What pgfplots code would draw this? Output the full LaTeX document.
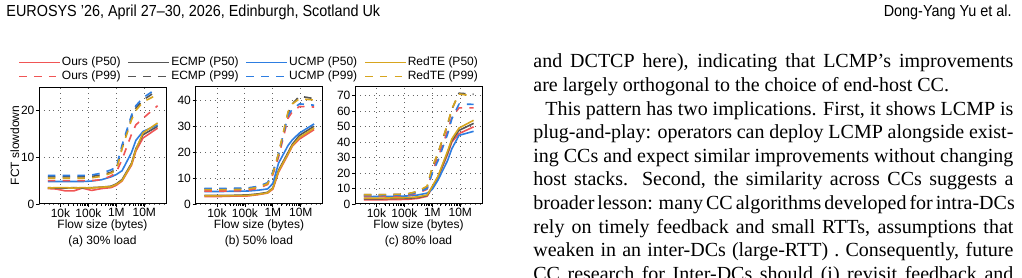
\documentclass[border=0pt]{standalone}
\usepackage{fontspec}
\setmainfont{Liberation Serif}
\newfontfamily\chartfont{Liberation Sans}
\newfontfamily\headfont{Liberation Sans}[FakeStretch=0.9]
\usepackage{pgfplots}
\usepackage{pgfplotstable}
\pgfplotsset{compat=1.18}

\definecolor{cOurs}{RGB}{240,85,85}
\definecolor{cECMP}{RGB}{85,85,85}
\definecolor{cUCMP}{RGB}{45,125,225}
\definecolor{cRedTE}{RGB}{215,165,30}

% 30% load
\pgfplotstableread{
x     rs   gs   bs   ys   rd   gd   bd   yd
3.5e3 3.3  3.5  4.8  3.4  5.0  5.8  6.1  5.5
7e3   3.2  3.4  4.8  3.5  5.0  5.8  6.1  5.5
1.5e4 2.8  3.4  4.8  3.5  5.0  5.8  6.1  5.5
3e4   2.8  3.5  4.8  3.4  5.0  5.8  6.1  5.5
6e4   3.4  3.4  4.8  3.5  5.0  5.8  6.1  5.5
1.3e5 2.9  3.5  4.9  3.4  5.0  5.9  6.2  5.6
3e5   3.3  3.6  5.2  3.6  5.2  6.2  6.6  5.9
6.5e5 3.5  3.8  5.8  3.7  6.0  6.8  7.3  6.6
1e6   4.0  4.3  6.3  4.2  6.8  7.5  7.9  7.2
1.6e6 4.9  5.2  7.1  5.0  9.5  12.0 12.6 11.8
3.5e6 8.3  8.7  11.0 8.5  14.9 18.5 19.0 18.0
5e6   11.3 11.8 13.6 11.6 16.9 20.5 21.0 20.0
9e6   14.1 14.8 15.5 15.2 18.3 22.2 22.7 21.8
3e7   16.2 16.6 16.9 17.3 21.0 24.3 24.8 23.4
}\tblA

% 50% load
\pgfplotstableread{
x     rs   gs   bs   ys   rd   gd   bd   yd
3.5e3 2.9  3.3  4.8  3.1  5.0  5.8  6.0  5.5
7e3   2.9  3.3  4.8  3.1  5.0  5.8  6.0  5.5
1.5e4 2.9  3.3  4.8  3.1  5.0  5.8  6.0  5.5
3e4   3.0  3.3  4.9  3.2  5.0  5.8  6.0  5.5
6e4   3.0  3.4  4.9  3.2  5.1  5.9  6.1  5.6
1.3e5 3.1  3.5  5.0  3.3  5.3  6.0  6.2  5.8
3e5   3.6  3.9  5.3  3.7  6.0  6.6  6.8  6.4
6.5e5 4.2  4.5  5.8  4.3  7.5  8.0  8.2  7.8
1e6   5.7  6.2  7.9  6.0  11.3 12.0 12.3 11.8
1.6e6 12.2 13.0 15.7 12.6 18.0 19.0 19.2 19.5
3.5e6 19.0 19.8 22.5 19.3 33.0 35.0 34.0 35.5
5e6   22.3 23.0 24.7 22.5 35.5 38.5 36.5 38.5
9e6   25.0 26.4 27.3 25.6 37.5 41.5 38.5 40.5
3e7   28.6 29.9 30.8 29.2 37.3 40.5 38.0 40.0
}\tblB

% 80% load
\pgfplotstableread{
x     rs   gs   bs   ys   rd   gd   bd   yd
3.5e3 2.7  3.4  4.8  3.8  5.0  6.0  5.5  6.0
7e3   2.7  3.4  4.8  3.8  5.0  6.0  5.5  6.0
1.5e4 2.7  3.4  4.9  3.8  5.0  6.0  5.5  6.0
3e4   2.8  3.5  4.9  3.9  5.1  6.1  5.6  6.1
6e4   2.9  3.6  5.0  4.0  5.2  6.2  5.7  6.2
1.3e5 3.0  3.7  5.2  4.1  5.5  6.5  6.0  6.5
3e5   3.6  4.2  5.8  4.6  7.0  8.0  7.5  8.2
6.5e5 5.0  5.5  7.0  5.8  9.5  11.0 10.0 11.5
1e6   10.5 11.0 9.5  11.5 21.0 23.5 20.0 24.0
1.6e6 17.0 17.5 15.5 18.0 30.0 33.0 28.0 33.0
3.5e6 32.0 33.0 28.0 34.0 47.0 51.0 45.0 51.5
5e6   40.0 41.0 35.7 42.0 56.0 61.0 55.0 61.5
9e6   45.4 47.5 44.3 49.0 62.0 71.5 64.5 71.0
3e7   49.8 52.0 46.9 54.0 62.0 70.8 64.3 69.7
}\tblC

\newcommand{\cf}{\chartfont\fontsize{6}{7}\selectfont}

\pgfplotsset{
  every axis/.append style={
    scale only axis, width=63.5pt, height=58.5pt, anchor=south west,
    xmin=1.7e3, xmax=6e7, ymin=0,
    xtick={1e4,1e5,1e6,1e7}, xticklabels={10k,100k,1M,10M},
    grid=major, major grid style={dotted, black!60, line width=0.45pt},
    tick pos=left, tick align=outside, major tick length=1.5pt, minor tick length=1pt,
    tick style={black, line width=0.4pt},
    axis line style={line width=0.5pt},
    every tick label/.append style={font=\cf, inner sep=0.6pt},
    /pgf/number format/assume math mode=true,
    xlabel={Flow size (bytes)},
    every axis x label/.style={at={(axis description cs:0.5,0)}, anchor=center, yshift=-10.5pt, inner sep=0pt, font=\cf},
    every axis y label/.style={at={(axis description cs:-0.19,0.5)}, anchor=center, rotate=90, inner sep=0pt, font=\cf},
  },
  every axis plot/.append style={line width=0.8pt, line join=round, mark=none},
}

\newcommand{\allplots}[1]{%
  \addplot[cOurs]  table[x=x,y=rs]{#1};
  \addplot[cECMP]  table[x=x,y=gs]{#1};
  \addplot[cUCMP]  table[x=x,y=bs]{#1};
  \addplot[cRedTE] table[x=x,y=ys]{#1};
  \addplot[cOurs, dash pattern=on 3.8pt off 3.6pt]  table[x=x,y=rd]{#1};
  \addplot[cECMP, dash pattern=on 3.8pt off 3.6pt]  table[x=x,y=gd]{#1};
  \addplot[cUCMP, dash pattern=on 3.8pt off 3.6pt]  table[x=x,y=bd]{#1};
  \addplot[cRedTE, dash pattern=on 3.8pt off 3.6pt] table[x=x,y=yd]{#1};
}

\newcommand{\jl}[1]{\hbox to 240pt{#1}}

\begin{document}
\begin{tikzpicture}
\useasboundingbox (0,0) rectangle (511pt,139pt);

% header
\node[anchor=base west, inner sep=0pt, font=\headfont\fontsize{8}{9}\selectfont] at (3pt,130.5pt) {EUROSYS ’26, April 27–30, 2026, Edinburgh, Scotland Uk};
\node[anchor=base east, inner sep=0pt, font=\headfont\fontsize{8}{9}\selectfont] at (506pt,130.5pt) {Dong-Yang Yu et al.};

% panel (a)
\begin{axis}[xmode=log, at={(19.5pt,37pt)}, ymax=25, ytick={0,10,20},
  ylabel={FCT slowdown},
  legend columns=4,
  legend cell align=left,
  legend image code/.code={\draw[#1, line width=0.8pt] (0pt,0pt) -- (20.5pt,0pt);},
  legend style={at={(-0.1654,1.265)}, anchor=north west, draw=none, fill=none,
    font=\cf, inner sep=0pt, row sep=0.7pt,
    nodes={inner xsep=0.5pt, inner ysep=0.4pt, text height=4.3pt, text depth=1.2pt},
    /tikz/every even column/.append style={column sep=3pt}},
]
\allplots{\tblA}
\legend{Ours (P50),ECMP (P50),UCMP (P50),RedTE (P50),Ours (P99),ECMP (P99),UCMP (P99),RedTE (P99)}
\end{axis}

% panel (b)
\begin{axis}[xmode=log, at={(97.75pt,37pt)}, ymax=45, ytick={0,10,20,30,40}]
\allplots{\tblB}
\end{axis}

% panel (c)
\begin{axis}[xmode=log, at={(177.5pt,37pt)}, ymax=75.5, ytick={0,10,20,30,40,50,60,70}]
\allplots{\tblC}
\end{axis}

\node[font=\cf, inner sep=0pt] at (51.25pt,18.15pt) {(a) 30\% load};
\node[font=\cf, inner sep=0pt] at (129.5pt,18.15pt) {(b) 50\% load};
\node[font=\cf, inner sep=0pt] at (209.25pt,18.15pt) {(c) 80\% load};

% body text
\node[anchor=base west, inner sep=0pt] at (266.5pt,105pt) {\parbox[t]{240pt}{\fontsize{10}{11.8}\selectfont
\spaceskip=0.25em plus 0.4em minus 0.1em
\jl{and DCTCP here), indicating that LCMP’s improvements}
\jl{are largely orthogonal to the choice of end-host CC.\hfil}
\jl{\hspace*{6pt}This pattern has two implications. First, it shows LCMP is}
\jl{plug-and-play: operators can deploy LCMP alongside exist-}
\jl{ing CCs and expect similar improvements without changing}
\jl{host stacks. Second, the similarity across CCs suggests a}
\jl{broader lesson: many CC algorithms developed for intra-DCs}
\jl{rely on timely feedback and small RTTs, assumptions that}
\jl{weaken in an inter-DCs (large-RTT) . Consequently, future}
\jl{CC research for Inter-DCs should (i) revisit feedback and}}};
\end{tikzpicture}
\end{document}
